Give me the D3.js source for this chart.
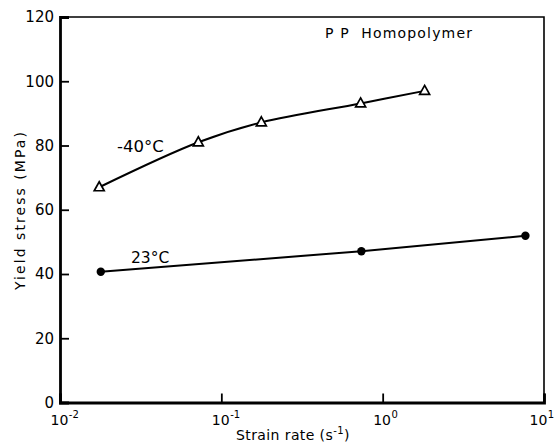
<!DOCTYPE html>
<html>
<head>
<meta charset="utf-8">
<script src="https://cdn.jsdelivr.net/npm/d3@7"></script>
<style>
  body { margin: 0; background: #fff; }
  svg text { font-family: "DejaVu Sans", sans-serif; fill: #000; }
</style>
</head>
<body>
<svg id="chart" width="555" height="444"></svg>
<script>
// values
const rateCold = [0.0175, 0.072, 0.177, 0.73, 1.82];
const stressCold = [67, 81, 87.2, 93.1, 97];
const rateRoom = [0.0179, 0.738, 7.67];
const stressRoom = [40.7, 47.1, 51.9];
const yTicks = [0, 20, 40, 60, 80, 100, 120];
const xTicks = [0.01, 0.1, 1, 10];
const xTickExp = ["-2", "-1", "0", "1"];

const svg = d3.select("#chart");
const plotL = 60, plotR = 544, plotT = 17, plotB = 402.5;

const x = d3.scaleLog().domain([0.01, 10]).range([plotL, plotR]);
const y = d3.scaleLinear().domain([0, 120]).range([plotB, plotT]);

// frame, top and right thinner
svg.append("path")
  .attr("d", `M${plotL},${plotT}H${plotR}V${plotB}`)
  .attr("fill", "none").attr("stroke", "#000").attr("stroke-width", 1.6);

// y axis, ticks pointing inward
const yAxis = svg.append("g")
  .attr("transform", `translate(${plotL},0)`)
  .call(d3.axisLeft(y).tickValues(yTicks).tickSize(-9).tickPadding(6));
yAxis.select(".domain").attr("stroke-width", 2.8);
yAxis.selectAll(".tick line").attr("stroke-width", 1.8);
yAxis.selectAll(".tick text")
  .attr("font-size", 15).attr("font-family", "DejaVu Sans, sans-serif").attr("fill", "#000");

// x axis, ticks inward, labels drawn with exponents
const xAxis = svg.append("g")
  .attr("transform", `translate(0,${plotB})`)
  .call(d3.axisBottom(x).tickValues(xTicks).tickSize(-9).tickFormat(""));
xAxis.select(".domain").attr("stroke-width", 2.8);
xAxis.selectAll(".tick line").attr("stroke-width", 1.8);

// last label pulled in a little so it stays on the page
const xl = svg.append("g").selectAll("text")
  .data(xTicks)
  .join("text")
  .attr("x", (d, i) => x(d) - (i == xTicks.length - 1 ? 14.5 : 9.5))
  .attr("y", 425)
  .attr("font-size", 14);
xl.append("tspan").text("10");
xl.append("tspan")
  .attr("font-size", 10)
  .attr("dx", 0.5)
  .attr("dy", -7)
  .text((d, i) => xTickExp[i]);

// axis titles
svg.append("text")
  .attr("transform", "translate(25,211) rotate(-90)")
  .attr("text-anchor", "middle")
  .attr("font-size", 14)
  .attr("textLength", 158)
  .attr("lengthAdjust", "spacing")
  .text("Yield stress (MPa)");

const xt = svg.append("text")
  .attr("x", 236).attr("y", 440)
  .attr("font-size", 14)
  .attr("letter-spacing", 0.4);
xt.append("tspan").text("Strain rate (s");
xt.append("tspan").attr("font-size", 10).attr("dy", -6).text("-1");
xt.append("tspan").attr("dy", 6).text(")");

svg.append("text")
  .attr("x", 325).attr("y", 38)
  .attr("font-size", 14)
  .attr("textLength", 147)
  .attr("lengthAdjust", "spacing")
  .text("P P  Homopolymer")
  .style("white-space", "pre");

// series labels
svg.append("text").attr("x", 117).attr("y", 152).attr("font-size", 16.5).text("-40°C");
svg.append("text").attr("x", 131).attr("y", 263).attr("font-size", 15.5).text("23°C");

// -40°C curve
const cold = rateCold.map((r, i) => [r, stressCold[i]]);
const room = rateRoom.map((r, i) => [r, stressRoom[i]]);

svg.append("path")
  .datum(cold)
  .attr("fill", "none").attr("stroke", "#000").attr("stroke-width", 2)
  .attr("d", d3.line().x(d => x(d[0])).y(d => y(d[1])).curve(d3.curveCatmullRom.alpha(0.5)));

svg.append("g").selectAll("path")
  .data(cold)
  .join("path")
  .attr("transform", d => `translate(${x(d[0])},${y(d[1])})`)
  .attr("d", "M0,-5.5L5,3.5L-5,3.5Z")
  .attr("fill", "#fff").attr("stroke", "#000").attr("stroke-width", 1.7);

// 23°C line
svg.append("path")
  .datum(room)
  .attr("fill", "none").attr("stroke", "#000").attr("stroke-width", 2)
  .attr("d", d3.line().x(d => x(d[0])).y(d => y(d[1])));

svg.append("g").selectAll("circle")
  .data(room)
  .join("circle")
  .attr("cx", d => x(d[0]))
  .attr("cy", d => y(d[1]))
  .attr("r", 4.2)
  .attr("fill", "#000");
</script>
</body>
</html>
